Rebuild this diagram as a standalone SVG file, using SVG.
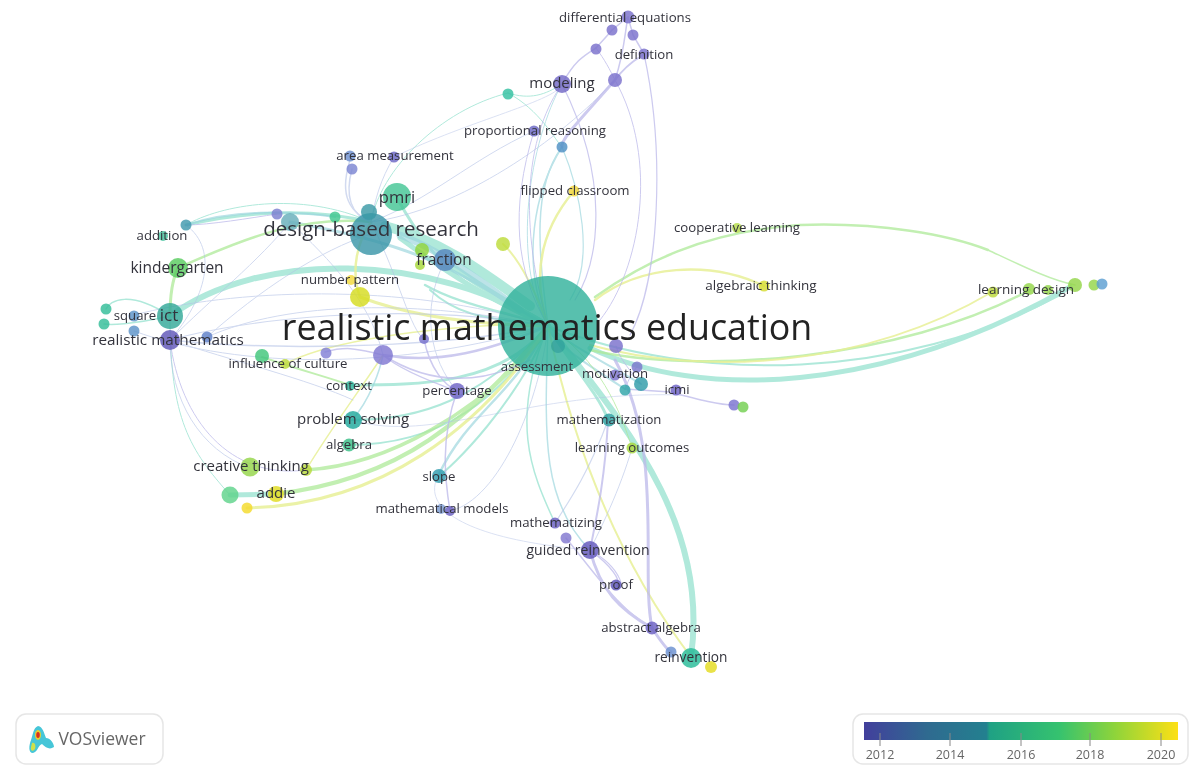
<svg xmlns="http://www.w3.org/2000/svg" width="1196" height="767" viewBox="0 0 1196 767">
<defs>
<linearGradient id="scale" x1="0" x2="1" y1="0" y2="0">
<stop offset="0" stop-color="#423f9c"/><stop offset=".2" stop-color="#2f6a90"/><stop offset=".39" stop-color="#23808f"/><stop offset=".4" stop-color="#1fa184"/><stop offset=".62" stop-color="#35c26f"/><stop offset=".8" stop-color="#8fd43a"/><stop offset="1" stop-color="#fde015"/>
</linearGradient>
<filter id="soft" x="-5%" y="-5%" width="110%" height="110%"><feGaussianBlur stdDeviation="0.6"/></filter>
</defs>
<style>
text{font-family:"Open Sans","Noto Sans",sans-serif;fill:#33333c;text-anchor:middle}
.l{font-size:13.200px}.m{font-size:15px}
.c path{fill:none;stroke-linecap:round}
.teal{stroke:#8fe0cc;opacity:.7}.blue{stroke:#b4c2e6;opacity:.6}.pur{stroke:#bcb9ea;opacity:.75}.grn{stroke:#aeea98;opacity:.75}.yel{stroke:#e8f098;opacity:.85}.aqua{stroke:#98d4dc;opacity:.65}
.node circle{opacity:.82}
</style>
<rect width="1196" height="767" fill="#fff"/>
<g class="c" id="connectors" filter="url(#soft)">
<g class="teal">
<path d="M530 306C480 270 440 240 385 226" stroke-width="10"/>
<path d="M548 326C490 300 450 275 400 238" stroke-width="5"/>
<path d="M548 326C430 252 260 250 170 316" stroke-width="6"/>
<path d="M548 326C470 290 440 275 397 198" stroke-width="3"/>
<path d="M548 326C500 298 470 280 444 260" stroke-width="6"/>
<path d="M548 326C500 310 460 305 425 285" stroke-width="2.500"/>
<path d="M548 326C490 318 460 318 430 290" stroke-width="2"/>
<path d="M548 326C480 400 420 420 352 420" stroke-width="2"/>
<path d="M590 348C700 400 880 395 1070 287" stroke-width="5"/>
<path d="M548 326C700 385 900 380 1060 295" stroke-width="2"/>
<path d="M548 326C620 420 710 520 691 657" stroke-width="6"/>
<path d="M548 326C560 350 600 395 608 420" stroke-width="3"/>
<path d="M548 326C520 400 450 470 438 476" stroke-width="2"/>
<path d="M548 326C500 400 440 445 348 445" stroke-width="2"/>
<path d="M548 326C500 385 420 385 350 385" stroke-width="3"/>
<path d="M371 222C300 205 230 215 186 225" stroke-width="3"/>
<path d="M371 222C300 190 220 205 186 225" stroke-width="1"/>
<path d="M170 316C130 290 110 300 106 309" stroke-width="1.500"/>
<path d="M170 316C130 325 110 325 104 324" stroke-width="1.500"/>
<path d="M230 495C190 450 170 420 170 316" stroke-width="1"/>
<path d="M230 495L275 494" stroke-width="5"/>
<path d="M508 93C440 110 380 170 371 222" stroke-width="1"/>
<path d="M508 93C540 110 555 140 562 147" stroke-width="1"/>
<path d="M508 93C530 100 545 95 562 84" stroke-width="1"/>
<path d="M548 326C510 420 530 470 555 523" stroke-width="1.500"/>
</g>
<g class="aqua">
<path d="M548 326C480 290 450 250 290 222" stroke-width="3"/>
<path d="M520 310C480 280 440 250 400 235" stroke-width="7"/>
<path d="M548 326C510 400 470 410 438 476" stroke-width="2.500"/>
<path d="M625 389C580 360 550 340 548 326" stroke-width="2"/>
<path d="M641 384C600 360 570 345 548 326" stroke-width="2"/>
<path d="M352 420C370 400 380 370 383 355" stroke-width="1.500"/>
<path d="M562 147C535 190 520 260 548 326" stroke-width="1.500"/>
<path d="M562 147C530 190 540 260 548 326" stroke-width="1.500"/>
<path d="M562 147C580 190 595 260 570 300" stroke-width="1.200"/>
<path d="M562 84C530 140 510 260 548 326" stroke-width="1"/>
<path d="M548 326C545 430 540 500 590 550" stroke-width="1.500"/>
<path d="M186 225C230 210 290 210 335 217" stroke-width="2"/>
</g>
<g class="grn">
<path d="M548 326C470 420 400 480 275 494" stroke-width="4.500"/>
<path d="M540 340C480 410 390 465 306 470" stroke-width="3.500"/>
<path d="M178 268C240 240 300 215 371 222" stroke-width="2.500"/>
<path d="M178 268C172 280 170 300 170 316" stroke-width="3"/>
<path d="M262 357C300 370 320 375 350 385" stroke-width="2"/>
<path d="M595 297C640 265 700 232 800 225C880 222 950 235 988 250" stroke-width="2.500"/>
<path d="M988 250C1020 265 1050 280 1075 285" stroke-width="1.500"/>
<path d="M590 350C700 375 900 360 1030 290" stroke-width="2.500"/>
<path d="M548 326C600 360 620 410 632 448" stroke-width="1"/>
</g>
<g class="yel">
<path d="M548 326C480 430 380 505 247 508" stroke-width="3"/>
<path d="M595 300C640 265 710 260 764 286" stroke-width="2.500"/>
<path d="M590 345C700 375 860 370 992 292" stroke-width="2"/>
<path d="M548 326C530 270 545 225 574 191" stroke-width="2.500"/>
<path d="M360 297C420 320 490 325 548 326" stroke-width="3"/>
<path d="M503 244C520 260 535 290 548 326" stroke-width="2"/>
<path d="M548 326C570 430 610 550 691 657" stroke-width="2"/>
<path d="M306 470C330 430 360 390 383 355" stroke-width="1.500"/>
<path d="M360 297C350 270 358 240 371 222" stroke-width="2.500"/>
<path d="M285 364C320 345 400 330 500 325" stroke-width="1.500"/>
</g>
<g class="blue">
<path d="M170 340C260 350 430 350 548 326" stroke-width="1.500"/>
<path d="M170 340C240 320 400 300 548 326" stroke-width="1.200"/>
<path d="M207 337C290 300 420 300 548 326" stroke-width="1"/>
<path d="M134 331C240 370 400 370 548 326" stroke-width="1"/>
<path d="M134 315C230 290 400 280 548 326" stroke-width="1"/>
<path d="M170 340C230 360 310 380 353 400" stroke-width="1"/>
<path d="M170 340C170 400 200 450 250 468" stroke-width="1"/>
<path d="M170 340C210 300 260 260 290 222" stroke-width="1"/>
<path d="M207 337C260 290 320 250 371 234" stroke-width="1"/>
<path d="M351 157C340 190 345 210 371 222" stroke-width="1.500"/>
<path d="M352 169C345 195 350 215 371 222" stroke-width="1.500"/>
<path d="M394 157C380 180 375 200 371 222" stroke-width="1"/>
<path d="M534 131C470 160 430 200 371 222" stroke-width="1"/>
<path d="M615 80C560 140 460 210 371 222" stroke-width="1"/>
<path d="M445 260C420 310 430 360 457 391" stroke-width="1"/>
<path d="M371 222C400 280 410 330 424 339" stroke-width="1"/>
<path d="M290 222C330 260 370 300 383 355" stroke-width="1"/>
<path d="M548 326C540 400 500 500 450 511" stroke-width="1"/>
<path d="M438 476C420 510 470 540 590 550" stroke-width=".8"/>
<path d="M608 420C590 470 570 500 555 523" stroke-width="1.200"/>
<path d="M632 448C620 490 600 530 590 550" stroke-width="1"/>
<path d="M186 225C220 250 205 300 170 340" stroke-width="1"/>
<path d="M394 157C470 120 560 100 562 84" stroke-width=".8"/>
<path d="M353 420C430 445 530 390 680 395" stroke-width=".8"/>
</g>
<g class="pur">
<path d="M562 84C530 130 515 210 548 326" stroke-width="1"/>
<path d="M562 84C610 180 600 260 575 300" stroke-width="1.200"/>
<path d="M562 84C575 60 585 55 596 48" stroke-width="1.500"/>
<path d="M596 48C605 38 608 35 612 30" stroke-width="1.500"/>
<path d="M615 80C625 50 625 30 628 17" stroke-width="1.500"/>
<path d="M615 80C580 120 560 140 562 147" stroke-width="3"/>
<path d="M615 80C630 60 640 58 644 54" stroke-width="2"/>
<path d="M596 48C605 60 610 70 615 80" stroke-width="1"/>
<path d="M644 54C665 150 660 280 630 335" stroke-width="1.200"/>
<path d="M615 80C660 160 640 270 600 320" stroke-width="1"/>
<path d="M612 30L628 17L633 35L644 54" stroke-width="1.500"/>
<path d="M534 131C510 210 515 270 548 326" stroke-width="1"/>
<path d="M615 360C665 450 640 570 652 628" stroke-width="3"/>
<path d="M590 550C600 590 620 610 652 628" stroke-width="3"/>
<path d="M590 550C610 565 622 580 617 586" stroke-width="1.500"/>
<path d="M590 550C625 570 625 595 617 586" stroke-width="1.200"/>
<path d="M652 628C660 640 665 648 671 652" stroke-width="3"/>
<path d="M566 538C600 580 620 610 652 628" stroke-width="1.500"/>
<path d="M590 550C596 520 605 480 608 420" stroke-width="2"/>
<path d="M383 355C440 365 490 350 548 326" stroke-width="2.500"/>
<path d="M383 355C430 385 480 385 530 360" stroke-width="1.500"/>
<path d="M325 352C350 345 360 350 383 355" stroke-width="1.500"/>
<path d="M424 339C430 370 445 385 457 391" stroke-width="1.500"/>
<path d="M383 355C400 370 440 385 457 391" stroke-width="1.200"/>
<path d="M457 391C440 440 445 480 450 511" stroke-width="1.500"/>
<path d="M625 389L670 392C700 400 720 405 734 405" stroke-width="1.500"/>
<path d="M616 346C620 360 630 370 641 384" stroke-width="1"/>
<path d="M637 367C630 375 628 382 625 389" stroke-width="1"/>
<path d="M277 214C250 218 210 225 186 225" stroke-width="1"/>
<path d="M170 340C180 420 230 480 306 470" stroke-width="1"/>
</g>
</g>
<g filter="url(#soft)">
<g class="node" id="n-hub"><circle cx="548" cy="326" r="50" fill="#32b29c"/><circle cx="558" cy="346" r="7" fill="#1f8f94" style="opacity:.45"/></g>
<g class="node" id="n-dbr"><circle cx="371" cy="234" r="21" fill="#3a96a8"/><circle cx="369" cy="212" r="8" fill="#3a9aa6"/></g>
<g class="node" id="n-pmri"><circle cx="397" cy="197" r="14" fill="#43c695"/></g>
<g class="node" id="n-fraction"><circle cx="445" cy="260" r="11" fill="#5585bd"/><circle cx="422" cy="250" r="7" fill="#8fd43a"/><circle cx="420" cy="265" r="5" fill="#a7d83a"/></g>
<g class="node" id="n-np"><circle cx="360" cy="297" r="10" fill="#d6dc20"/><circle cx="351" cy="280" r="5" fill="#f1d93a"/></g>
<g class="node" id="n-misc1"><circle cx="503" cy="244" r="7" fill="#bddc3a"/><circle cx="290" cy="222" r="9" fill="#68aebb"/><circle cx="277" cy="214" r="5.500" fill="#7c7fd0"/><circle cx="335" cy="217" r="5.500" fill="#3fc78f"/><circle cx="186" cy="225" r="5.500" fill="#3f98ad"/></g>
<g class="node" id="n-addition"><circle cx="163" cy="236" r="5" fill="#45c39d"/></g>
<g class="node" id="n-kg"><circle cx="178" cy="268" r="10" fill="#59cc5f"/></g>
<g class="node" id="n-ict"><circle cx="170" cy="316" r="13" fill="#33a899"/></g>
<g class="node" id="n-square"><circle cx="134" cy="316" r="5.500" fill="#5b93c8"/><circle cx="106" cy="309" r="5.500" fill="#32bd98"/><circle cx="104" cy="324" r="5.500" fill="#32bd98"/><circle cx="134" cy="331" r="5.500" fill="#5b93c8"/></g>
<g class="node" id="n-rm"><circle cx="170" cy="340" r="10" fill="#5f55b8"/><circle cx="207" cy="337" r="5.500" fill="#5d7fc8"/></g>
<g class="node" id="n-area"><circle cx="350" cy="156" r="5.500" fill="#6c8fd0"/><circle cx="394" cy="157" r="5.500" fill="#6a66c4"/><circle cx="352" cy="169" r="5.500" fill="#7c85d2"/></g>
<g class="node" id="n-ic"><circle cx="262" cy="356" r="7" fill="#3fc67a"/><circle cx="285" cy="364" r="5" fill="#bcd93a"/><circle cx="326" cy="353" r="5.500" fill="#8380d6"/><circle cx="383" cy="355" r="10" fill="#8078d2"/><circle cx="424" cy="339" r="5" fill="#7670cc"/></g>
<g class="node" id="n-ctx"><circle cx="350" cy="386" r="5" fill="#2fb59b"/></g>
<g class="node" id="n-pct"><circle cx="457" cy="391" r="8" fill="#6e62c6"/></g>
<g class="node" id="n-ps"><circle cx="353" cy="420" r="9" fill="#22a89c"/></g>
<g class="node" id="n-alg"><circle cx="349" cy="445" r="6.500" fill="#3cc088"/></g>
<g class="node" id="n-ct"><circle cx="250" cy="467" r="9.500" fill="#95d64a"/><circle cx="306" cy="470" r="6" fill="#b8d93a"/></g>
<g class="node" id="n-addie"><circle cx="230" cy="495" r="8.500" fill="#5fd38b"/><circle cx="276" cy="494" r="8" fill="#e0dc20"/><circle cx="247" cy="508" r="5.500" fill="#f4da2a"/></g>
<g class="node" id="n-slope"><circle cx="439" cy="476" r="7" fill="#2f9bae"/></g>
<g class="node" id="n-mm"><circle cx="441" cy="509" r="5" fill="#7d9bd2"/><circle cx="450" cy="511" r="5" fill="#6a5fc2"/></g>
<g class="node" id="n-top"><circle cx="628" cy="17" r="6.500" fill="#7a70cc"/><circle cx="612" cy="30" r="5.500" fill="#7a70cc"/><circle cx="633" cy="35" r="5.500" fill="#7a70cc"/><circle cx="644" cy="54" r="5.500" fill="#7a70cc"/><circle cx="596" cy="49" r="5.500" fill="#7a70cc"/><circle cx="615" cy="80" r="7" fill="#7a70cc"/><circle cx="562" cy="84" r="9" fill="#7268c6"/><circle cx="508" cy="94" r="5.500" fill="#35c1a1"/><circle cx="534" cy="131" r="5.500" fill="#6a66c4"/><circle cx="562" cy="147" r="5.500" fill="#4f90c4"/></g>
<g class="node" id="n-fc"><circle cx="574" cy="191" r="5.500" fill="#f2d73a"/></g>
<g class="node" id="n-right"><circle cx="737" cy="228" r="5" fill="#b6dc4a"/><circle cx="764" cy="286" r="5.500" fill="#d6dc30"/><circle cx="993" cy="292" r="5.500" fill="#bcd93a"/><circle cx="1029" cy="289" r="6" fill="#94d64a"/><circle cx="1048" cy="290" r="5" fill="#94d64a"/><circle cx="1075" cy="285" r="7" fill="#94d64a"/><circle cx="1094" cy="285" r="5.500" fill="#94d64a"/><circle cx="1102" cy="284" r="5.500" fill="#5d9fd2"/></g>
<g class="node" id="n-mot"><circle cx="616" cy="346" r="7" fill="#7a70cc"/><circle cx="637" cy="367" r="5.500" fill="#7a78cc"/><circle cx="615" cy="375" r="5.500" fill="#7a70cc"/><circle cx="641" cy="384" r="7" fill="#2f9ba8"/><circle cx="625" cy="390" r="5.500" fill="#2fa5a8"/><circle cx="676" cy="390" r="5.500" fill="#6e62c6"/><circle cx="734" cy="405" r="5.500" fill="#7a74d0"/><circle cx="743" cy="407" r="5.500" fill="#74cf50"/></g>
<g class="node" id="n-math"><circle cx="609" cy="420" r="6.500" fill="#2a9fa0"/><circle cx="632" cy="448" r="5.500" fill="#a5d73a"/></g>
<g class="node" id="n-gr"><circle cx="555" cy="523" r="5.500" fill="#6a5fc2"/><circle cx="566" cy="538" r="5.500" fill="#8178d0"/><circle cx="590" cy="550" r="9" fill="#6258bc"/><circle cx="616" cy="585" r="5.500" fill="#5a52b8"/></g>
<g class="node" id="n-abs"><circle cx="652" cy="628" r="6.500" fill="#6a5fc2"/><circle cx="671" cy="652" r="5.500" fill="#6a90d0"/><circle cx="691" cy="658" r="10" fill="#27bb97"/><circle cx="711" cy="667" r="6" fill="#e4dc20"/></g>
</g>
<g id="labels">
<text x="547" y="340" font-size="35.800" style="fill:#222">realistic mathematics education</text>
<text x="371" y="236" font-size="20.500">design-based research</text>
<text x="397" y="203" font-size="16.500">pmri</text>
<text x="444" y="265" font-size="15.400">fraction</text>
<text class="l" x="350" y="284">number pattern</text>
<text class="l" x="162" y="240">addition</text>
<text x="177" y="273" font-size="15.500">kindergarten</text>
<text x="169" y="321" font-size="17">ict</text>
<text class="l" x="135" y="320">square</text>
<text x="168" y="345" font-size="15.300">realistic mathematics</text>
<text class="l" x="288" y="368">influence of culture</text>
<text class="l" x="349" y="390">context</text>
<text class="l" x="457" y="395">percentage</text>
<text class="l" x="537" y="371">assessment</text>
<text class="m" x="353" y="424">problem solving</text>
<text class="l" x="349" y="449">algebra</text>
<text class="m" x="251" y="471">creative thinking</text>
<text class="m" x="276" y="498">addie</text>
<text class="l" x="439" y="481">slope</text>
<text class="l" x="442" y="513">mathematical models</text>
<text class="l" x="395" y="160">area measurement</text>
<text class="l" x="625" y="22">differential equations</text>
<text class="l" x="644" y="59">definition</text>
<text class="m" x="562" y="88">modeling</text>
<text class="l" x="535" y="135">proportional reasoning</text>
<text class="l" x="575" y="195">flipped classroom</text>
<text class="l" x="737" y="232">cooperative learning</text>
<text x="761" y="290" font-size="13.500">algebraic thinking</text>
<text x="1026" y="294" font-size="13.500">learning design</text>
<text class="l" x="615" y="378">motivation</text>
<text class="l" x="677" y="394">icmi</text>
<text class="l" x="609" y="424">mathematization</text>
<text class="l" x="632" y="452">learning outcomes</text>
<text class="l" x="556" y="527">mathematizing</text>
<text x="588" y="555" font-size="14">guided reinvention</text>
<text class="l" x="616" y="589">proof</text>
<text class="l" x="651" y="632">abstract algebra</text>
<text x="691" y="662" font-size="13.700">reinvention</text>
</g>
<g id="logo">
<rect x="16" y="714" width="147" height="50" rx="10" fill="#fff" stroke="#e6e6e6" stroke-width="1.500"/>
<path d="M38 726C43 727 44 733 46 738C50 738 54 743 54 747C50 750 46 748 42 744C38 745 38 752 33 753C28 753 29 745 31 740C33 735 33 728 38 726Z" fill="#46c6d8"/>
<path d="M32 743C35 742 36 746 35 749C33 752 30 751 31 747Z" fill="#cfe04a"/>
<ellipse cx="38" cy="735" rx="3" ry="5" fill="#e8d030"/>
<ellipse cx="38" cy="735" rx="1.800" ry="3" fill="#d8301f"/>
<text x="102" y="745" font-size="17.500" style="fill:#666">VOSviewer</text>
</g>
<g id="legend">
<rect x="853" y="714" width="335" height="50" rx="10" fill="#fff" stroke="#e6e6e6" stroke-width="1.500"/>
<rect x="864" y="722" width="314" height="18" fill="url(#scale)"/>
<path d="M880 733V746M950 733V746M1021 733V746M1090 733V746M1161 733V746" stroke="#888" stroke-width="1"/>
<g font-size="12.500"><text x="880" y="759" style="fill:#666">2012</text><text x="950" y="759" style="fill:#666">2014</text><text x="1021" y="759" style="fill:#666">2016</text><text x="1090" y="759" style="fill:#666">2018</text><text x="1161" y="759" style="fill:#666">2020</text></g>
</g>
</svg>
